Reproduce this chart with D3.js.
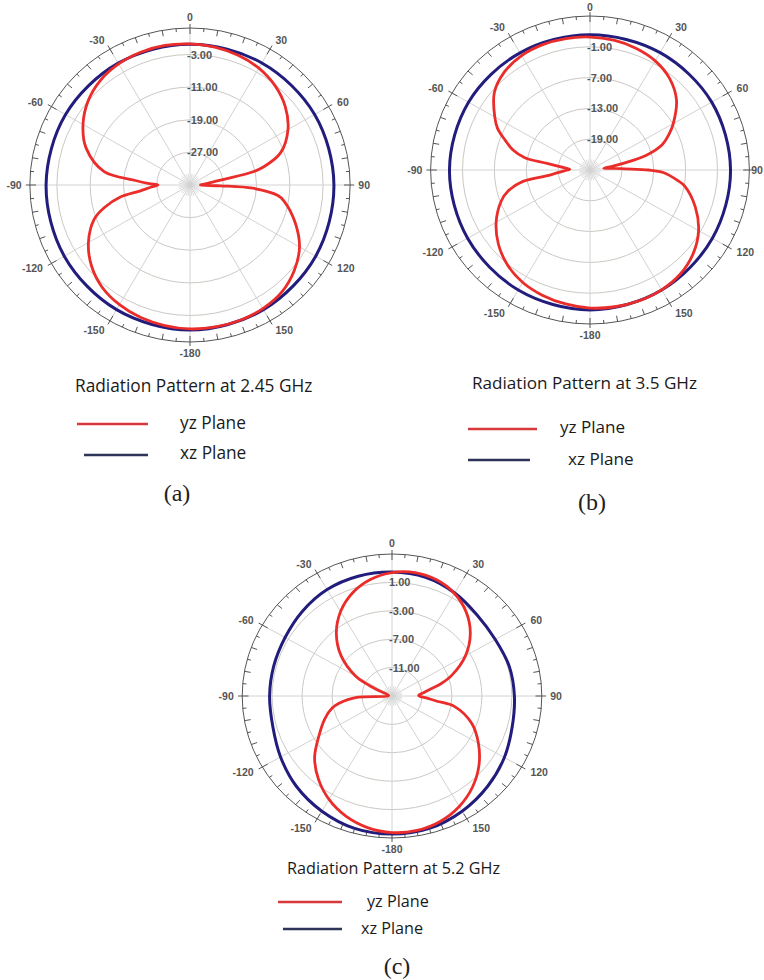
<!DOCTYPE html>
<html>
<head>
<meta charset="utf-8">
<script src="https://cdn.jsdelivr.net/npm/d3@7"></script>
<style>
  body { margin: 0; background: #fff; }
  svg { display: block; }
</style>
</head>
<body>
<svg id="fig" width="764" height="980"></svg>
<script>
// ---------------------------------------------------------------
// DATA (gain in dB, angle 0 = top, clockwise)
// ---------------------------------------------------------------
const angleTicks = [0, 30, 60, 90, 120, 150, 180, 210, 240, 270, 300, 330];
const angleTickText = ["0", "30", "60", "90", "120", "150", "-180", "-150", "-120", "-90", "-60", "-30"];

// 2.45 GHz
const rings245 = [-27, -19, -11, -3];
const yzAngles245 = [0, 10, 20, 30, 40, 50, 60, 70, 76, 78, 80, 82, 86, 90, 91.5, 93, 97, 100, 110, 120, 130, 140, 150, 160, 170, 180,
  190, 200, 210, 220, 230, 240, 250, 255, 260, 263, 267, 270, 272, 275, 279, 290, 300, 310, 320, 330, 340, 350];
const yzGain245 = [-0.4, -0.65, -1.15, -1.9, -3.2, -5.1, -7.8, -11.8, -16.8, -19.7, -25.7, -29.1, -31.6, -32.5, -27.6, -19.9, -13.7, -12.0, -8.1, -4.6, -2.3, -0.7, 0.0, 0.3, 0.35, 0.3,
  0.0, -0.4, -1.1, -2.2, -4.1, -6.8, -10.5, -13.7, -18.0, -22.8, -25.7, -27.3, -25.2, -21.6, -14.1, -8.4, -5.3, -3.0, -1.5, -0.7, -0.35, -0.25];
const xzAngles245 = [0, 30, 60, 90, 120, 150, 180, 210, 240, 270, 300, 330];
const xzGain245 = [-0.5, -0.45, -0.4, -0.4, -0.1, 0.3, 0.55, 0.3, -0.1, -0.4, -0.45, -0.5];

// 3.5 GHz
const rings35 = [-19, -13, -7, -1];
const yzAngles35 = [0, 10, 20, 30, 40, 50, 60, 65, 70, 75, 78, 80, 82.5, 86, 88, 90, 92, 97, 100, 110, 120, 130, 140, 150, 160, 170, 180,
  190, 200, 210, 220, 230, 240, 250, 255, 260, 262, 266, 270, 272, 276.5, 279, 281, 285, 290, 295, 300, 310, 320, 330, 340, 350];
const yzGain35 = [0.9, 0.67, 0.25, -0.45, -1.7, -3.75, -6.9, -8.6, -10.5, -14.1, -18.3, -20.4, -22.4, -20.3, -18.4, -14.0, -11.2, -8.4, -6.9, -3.9, -1.4, 0.35, 1.45, 1.95, 2.1, 2.05, 1.9,
  1.5, 1.0, 0.3, -0.85, -2.5, -4.6, -7.2, -9.0, -12.2, -16.7, -19.3, -20.8, -21.2, -19.3, -16.8, -12.5, -10.0, -8.0, -5.8, -4.3, -1.5, 0.0, 0.75, 1.0, 1.0];
const xzAngles35 = [0, 30, 60, 90, 120, 150, 180, 210, 240, 270, 300, 330];
const xzGain35 = [1.35, 1.4, 1.45, 1.45, 1.6, 2.0, 2.25, 2.0, 1.6, 1.45, 1.4, 1.35];

// 5.2 GHz
const rings52 = [-11, -7, -3, 1];
const yzAngles52 = [0, 10, 20, 30, 40, 50, 60, 70, 75, 79, 83, 89, 94, 97, 100, 110, 120, 130, 140, 150, 160, 170, 180,
  190, 200, 210, 220, 230, 240, 250, 258, 262, 265, 268, 270, 282, 294, 297, 300, 310, 320, 330, 340, 350];
const yzGain52 = [2.38, 2.65, 2.41, 1.68, 0.42, -1.35, -3.68, -6.52, -8.18, -9.69, -10.63, -11.45, -10.21, -8.94, -6.55, -3.66, -1.68, 0.16, 1.73, 2.96, 3.8, 4.23, 4.24,
  3.82, 3.01, 1.82, 0.28, -1.51, -3.73, -5.42, -6.83, -7.96, -9.08, -10.49, -14.44, -14.54, -12.82, -11.0, -9.37, -6.1, -3.44, -1.27, 0.44, 1.65];
const xzAngles52 = [0, 15, 30, 45, 60, 75, 90, 105, 120, 135, 150, 165, 180, 195, 210, 225, 240, 255, 270, 285, 300, 315, 330, 345];
const xzGain52 = [2.47, 2.32, 1.76, 1.1, 0.92, 1.2, 1.34, 1.62, 2.32, 3.03, 3.73, 4.3, 4.44, 4.3, 3.73, 3.03, 2.18, 1.48, 1.34, 1.34, 1.48, 1.9, 2.32, 2.47];

const seriesNames = ["yz Plane", "xz Plane"];
const titles = ["Radiation Pattern at 2.45 GHz", "Radiation Pattern at 3.5 GHz", "Radiation Pattern at 5.2 GHz"];
const panelTags = ["(a)", "(b)", "(c)"];

// ---------------------------------------------------------------
// LAYOUT
// ---------------------------------------------------------------
const W = 764, H = 980;
const RED = "#ea2d2a";
const NAVY = "#221d7c";
const LEG_RED = "#d8383b";
const LEG_NAVY = "#2e3358";

const panels = [
  { cx: 190, cy: 185, ry: 157, kx: 1.02, domain: [-35, 3.5], rings: rings245,
    yz: [yzAngles245, yzGain245], xz: [xzAngles245, xzGain245],
    title: { x: 75, y: 392, size: 17.3 },
    legend: { redX: [77, 148], redY: 424, navyX: [84, 148], navyY: 455, yzX: 180, yzY: 429, xzX: 180, xzY: 459, size: 17.3 },
    tag: { x: 177, y: 501 } },
  { cx: 590, cy: 170, ry: 154, kx: 1.035, domain: [-25, 5], rings: rings35,
    yz: [yzAngles35, yzGain35], xz: [xzAngles35, xzGain35],
    title: { x: 472, y: 389, size: 17.1 },
    legend: { redX: [468, 537], redY: 429, navyX: [468, 530], navyY: 460, yzX: 560, yzY: 433, xzX: 568, xzY: 465, size: 17.1 },
    tag: { x: 592, y: 510 } },
  { cx: 392, cy: 696, ry: 142, kx: 1.055, domain: [-15, 5], rings: rings52,
    yz: [yzAngles52, yzGain52], xz: [xzAngles52, xzGain52],
    title: { x: 287, y: 874, size: 16.2 },
    legend: { redX: [278, 342], redY: 902, navyX: [283, 342], navyY: 929, yzX: 367, yzY: 907, xzX: 361, xzY: 934, size: 16.2 },
    tag: { x: 397, y: 974 } }
];

const svg = d3.select("#fig");
const rad = d => d * Math.PI / 180;

panels.forEach((p, i) => {
  const g = svg.append("g").attr("transform", `translate(${p.cx},${p.cy})`);
  const r = d3.scaleLinear().domain(p.domain).range([0, p.ry]);
  const px = (a, rr) => p.kx * rr * Math.sin(rad(a));
  const py = (a, rr) => -rr * Math.cos(rad(a));

  // grid rings
  g.selectAll(".ring").data(p.rings).enter().append("ellipse")
    .attr("rx", d => p.kx * r(d)).attr("ry", d => r(d))
    .attr("fill", "none").attr("stroke", "#cdc8c3").attr("stroke-width", 1);

  // short spokes near the centre, long spokes every 30 degrees
  const inner = r(p.rings[0]) * 0.35;
  g.selectAll(".spoke-s").data(d3.range(0, 360, 10).filter(a => a % 30 !== 0)).enter().append("line")
    .attr("x1", 0).attr("y1", 0)
    .attr("x2", a => px(a, inner)).attr("y2", a => py(a, inner))
    .attr("stroke", "#d6d6d6").attr("stroke-width", 0.8);
  g.selectAll(".spoke").data(angleTicks).enter().append("line")
    .attr("x1", 0).attr("y1", 0)
    .attr("x2", a => px(a, p.ry)).attr("y2", a => py(a, p.ry))
    .attr("stroke", "#d2d2d2").attr("stroke-width", 1);

  // outer frame with ticks
  g.append("ellipse").attr("rx", p.kx * p.ry).attr("ry", p.ry)
    .attr("fill", "none").attr("stroke", "#555").attr("stroke-width", 1);
  g.selectAll(".tick").data(d3.range(0, 360, 5)).enter().append("line")
    .attr("x1", a => px(a, p.ry + (a % 30 === 0 ? 4 : 0)))
    .attr("y1", a => py(a, p.ry + (a % 30 === 0 ? 4 : 0)))
    .attr("x2", a => px(a, p.ry - (a % 10 === 0 ? 6 : 3.5)))
    .attr("y2", a => py(a, p.ry - (a % 10 === 0 ? 6 : 3.5)))
    .attr("stroke", "#555").attr("stroke-width", 1);

  // angle labels (kept inside the page)
  const labels = g.selectAll(".alab").data(angleTicks).enter().append("text")
    .attr("x", a => px(a, p.ry + 8 + 3 * Math.abs(Math.cos(rad(a)))))
    .attr("y", a => py(a, p.ry + 8 + 3 * Math.abs(Math.cos(rad(a)))))
    .attr("text-anchor", a => Math.abs(Math.sin(rad(a))) < 0.2 ? "middle" : (Math.sin(rad(a)) > 0 ? "start" : "end"))
    .attr("dominant-baseline", "central")
    .attr("font-family", "'Liberation Sans', Arial, sans-serif")
    .attr("font-size", 10.5).attr("font-weight", "bold").attr("fill", "#555")
    .text((a, j) => angleTickText[j]);
  labels.each(function () {
    const b = this.getBBox();
    const t = d3.select(this);
    const over = p.cx + b.x + b.width - (W - 1);
    if (over > 0) t.attr("x", +t.attr("x") - over);
    const top = p.cy + b.y - 1;
    if (top < 0) t.attr("y", +t.attr("y") - top);
  });

  // ring labels
  g.selectAll(".rlab").data(p.rings).enter().append("text")
    .attr("x", -3).attr("y", d => -r(d))
    .attr("dominant-baseline", "central")
    .attr("font-family", "'Liberation Sans', Arial, sans-serif")
    .attr("font-size", 11).attr("font-weight", "bold").attr("fill", "#555")
    .text(d => d.toFixed(2));

  // pattern curves
  const line = d3.line()
    .x(d => px(d[0], r(d[1])))
    .y(d => py(d[0], r(d[1])))
    .curve(d3.curveCatmullRomClosed.alpha(0.5));

  const xzPts = p.xz[0].map((a, j) => [a, p.xz[1][j]]);
  const yzPts = p.yz[0].map((a, j) => [a, p.yz[1][j]]);
  g.append("path").attr("d", line(xzPts))
    .attr("fill", "none").attr("stroke", NAVY).attr("stroke-width", 3);
  g.append("path").attr("d", line(yzPts))
    .attr("fill", "none").attr("stroke", RED).attr("stroke-width", 2.8);

  // title, legend and panel tag
  const font = "'Open Sans', 'Noto Sans', sans-serif";
  svg.append("text").attr("x", p.title.x).attr("y", p.title.y)
    .attr("font-family", font).attr("font-size", p.title.size).attr("fill", "#1a1a1a")
    .text(titles[i]);

  const L = p.legend;
  svg.append("line").attr("x1", L.redX[0]).attr("x2", L.redX[1]).attr("y1", L.redY).attr("y2", L.redY)
    .attr("stroke", LEG_RED).attr("stroke-width", 2.5);
  svg.append("line").attr("x1", L.navyX[0]).attr("x2", L.navyX[1]).attr("y1", L.navyY).attr("y2", L.navyY)
    .attr("stroke", LEG_NAVY).attr("stroke-width", 2.5);
  svg.append("text").attr("x", L.yzX).attr("y", L.yzY)
    .attr("font-family", font).attr("font-size", L.size).attr("fill", "#1a1a1a").text(seriesNames[0]);
  svg.append("text").attr("x", L.xzX).attr("y", L.xzY)
    .attr("font-family", font).attr("font-size", L.size).attr("fill", "#1a1a1a").text(seriesNames[1]);

  svg.append("text").attr("x", p.tag.x).attr("y", p.tag.y)
    .attr("text-anchor", "middle")
    .attr("font-family", "'Liberation Serif', 'Times New Roman', serif")
    .attr("font-size", 24).attr("fill", "#222")
    .text(panelTags[i]);
});
</script>
</body>
</html>
